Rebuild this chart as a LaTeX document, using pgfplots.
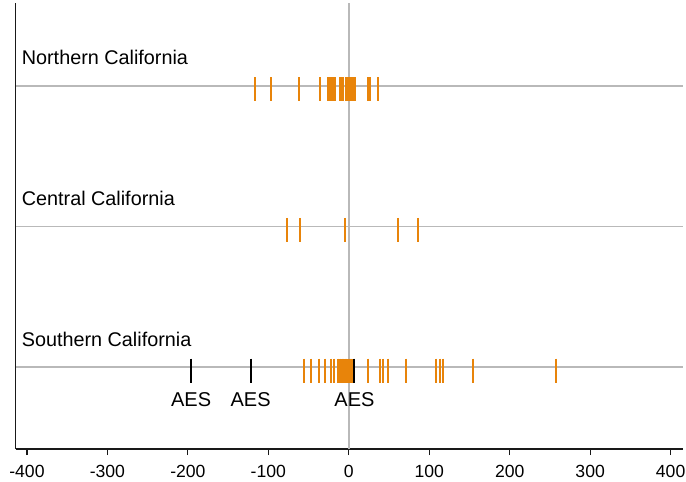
\documentclass[border=0pt]{standalone}
\usepackage{fontspec}
\setmainfont{Liberation Sans}
\usepackage{pgfplots}
\usepackage{pgfplotstable}
\pgfplotsset{compat=1.18}
\definecolor{stataorange}{RGB}{232,132,10}
\definecolor{gridgray}{RGB}{185,185,185}
\definecolor{axisgray}{RGB}{25,25,25}

\pgfplotstableread{
x y
-116.1 3
-97.1 3
-62.4 3
-35.5 3
-25.8 3
-23.3 3
-21.3 3
-19.2 3
-17.1 3
-11.5 3
-10.0 3
-6.6 3
-4.1 3
-1.6 3
0.9 3
3.3 3
5.8 3
7.5 3
24.4 3
26.9 3
36.8 3
}\north

\pgfplotstableread{
x y
-76.9 2
-60.3 2
-5.3 2
60.8 2
86.5 2
}\central

\pgfplotstableread{
x y
-55.8 1
-46.7 1
-37.6 1
-30.1 1
-22.0 1
-19.0 1
-13.0 1
-11.0 1
-9.0 1
-7.0 1
-5.0 1
-3.0 1
-1.0 1
1.0 1
3.0 1
5.0 1
23.6 1
39.0 1
42.2 1
48.4 1
71.0 1
107.9 1
113.4 1
117.5 1
154.7 1
257.3 1
}\south

\pgfplotstableread{
x y
-196 1
-122 1
7 1
}\aes

\begin{document}
\begin{tikzpicture}
\begin{axis}[
  name=ax,
  scale only axis,
  width=667bp, height=446bp,
  xmin=-414, xmax=415, ymin=0.417, ymax=3.59,
  axis x line*=bottom, axis y line*=left,
  axis line style={axisgray, line width=1.3bp, -},
  xtick={-400,-300,-200,-100,0,100,200,300,400},
  xticklabels={-400,-300,-200,-100,0,100,200,300,400},
  ytick={1,2,3}, yticklabels={},
  ymajorgrids,
  major grid style={gridgray, line width=1.5bp},
  y tick style={draw=none},
  x tick style={axisgray, line width=1.1bp},
  tick align=outside,
  major tick length=6bp,
  extra x ticks={0}, extra x tick labels={},
  extra x tick style={xmajorgrids=true, major tick length=0pt, tick style={draw=none}},
  xticklabel style={font=\fontsize{17.6bp}{21bp}\selectfont, anchor=base, yshift=-22bp},
  clip=false,
]
\addplot[only marks, mark=|, color=stataorange, mark size=12bp, mark options={line width=2bp, yshift=-3.5bp}] table {\north};
\addplot[only marks, mark=|, color=stataorange, mark size=12bp, mark options={line width=2bp, yshift=-3.5bp}] table {\central};
\addplot[only marks, mark=|, color=stataorange, mark size=12bp, mark options={line width=2bp, yshift=-3.5bp}] table {\south};
\addplot[only marks, mark=|, color=black, mark size=12bp, mark options={line width=2bp, yshift=-3.5bp},
  nodes near coords={AES},
  every node near coord/.append style={anchor=base, yshift=-36bp, font=\fontsize{20bp}{24bp}\selectfont, black}] table {\aes};
\node[anchor=base west, font=\fontsize{19.8bp}{24bp}\selectfont, yshift=21bp, inner sep=0pt] at (axis cs:-406.6,3) {Northern California};
\node[anchor=base west, font=\fontsize{19.8bp}{24bp}\selectfont, yshift=21bp, inner sep=0pt] at (axis cs:-406.6,2) {Central California};
\node[anchor=base west, font=\fontsize{19.8bp}{24bp}\selectfont, yshift=21bp, inner sep=0pt] at (axis cs:-406.6,1) {Southern California};
\end{axis}
\pgfresetboundingbox
\path ([shift={(-15.7bp,-33bp)}]ax.south west) rectangle ([shift={(3.3bp,3bp)}]ax.north east);
\end{tikzpicture}
\end{document}
